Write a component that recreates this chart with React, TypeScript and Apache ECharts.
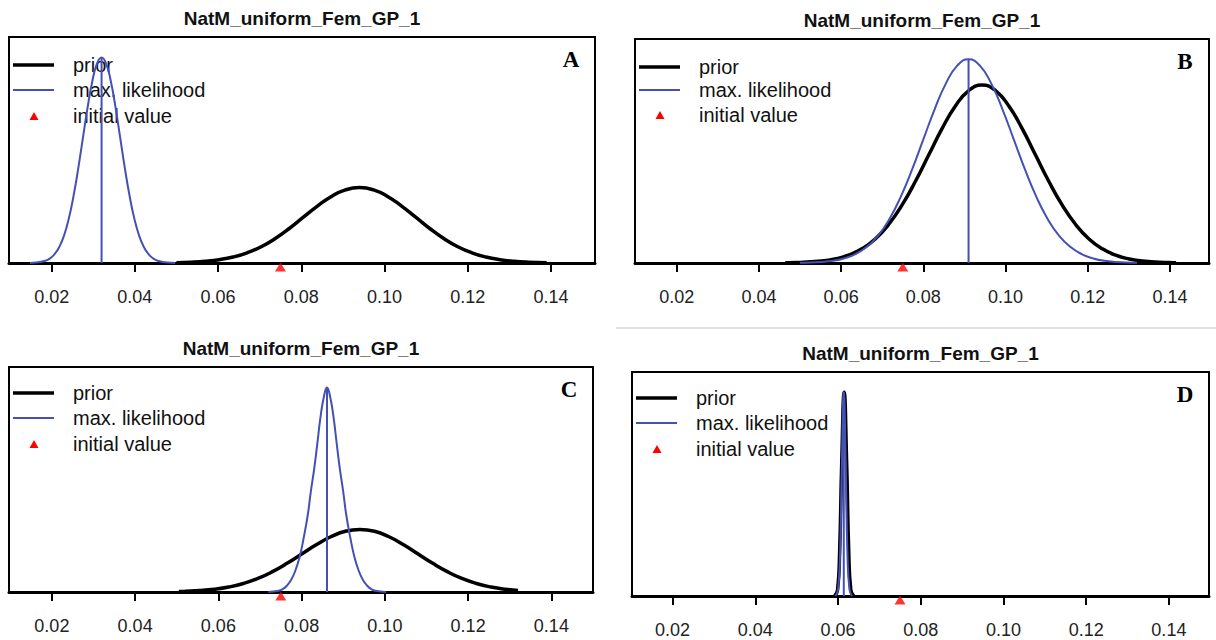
import React, { useEffect, useRef } from 'react';
import * as echarts from 'echarts';

// ---------- data ----------
const TITLE = 'NatM_uniform_Fem_GP_1';
const PANEL_LABELS = ['A', 'B', 'C', 'D'];
const LEGEND_LABELS = ['prior', 'max. likelihood', 'initial value'];
const X_TICKS = [0.02, 0.04, 0.06, 0.08, 0.1, 0.12, 0.14];
const INITIAL_VALUE = 0.075;

// Panel A
const priorA: number[][] = [
  [0.05, 0.17], [0.0535, 0.41], [0.056875, 0.84], [0.06025, 1.61], [0.063625, 2.92], [0.067, 4.97],
  [0.070375, 7.94], [0.07375, 11.9], [0.077125, 16.8], [0.0805, 22.3], [0.083875, 27.7],
  [0.08725, 32.4], [0.090625, 35.6], [0.094, 36.7], [0.097375, 35.6], [0.10075, 32.4],
  [0.104125, 27.7], [0.1075, 22.3], [0.110875, 16.8], [0.11425, 11.9], [0.117625, 7.94],
  [0.121, 4.97], [0.124375, 2.92], [0.12775, 1.61], [0.131125, 0.84], [0.1345, 0.41], [0.139, 0.14],
];
const mleA: number[][] = [
  [0.0148, 0.05], [0.01625, 0.2], [0.0185, 1.11], [0.019625, 2.28], [0.02075, 4.39], [0.021875, 7.96],
  [0.023, 13.5], [0.024125, 21.6], [0.02525, 32.5], [0.026375, 45.8], [0.0275, 60.7], [0.028625, 75.5],
  [0.02975, 88.2], [0.030875, 96.9], [0.032, 100], [0.033125, 96.9], [0.03425, 88.2], [0.035375, 75.5],
  [0.0365, 60.7], [0.037625, 45.8], [0.03875, 32.5], [0.039875, 21.6], [0.041, 13.5], [0.042125, 7.96],
  [0.04325, 4.39], [0.044375, 2.28], [0.0455, 1.11], [0.04775, 0.2], [0.0497, 0.05],
];
const mlePointA = [0.032, 100];

// Panel B
const priorB: number[][] = [
  [0.0464, 0.1], [0.0488, 0.19], [0.0553, 0.97], [0.05855, 1.99], [0.0618, 3.84], [0.06505, 6.96],
  [0.0683, 11.8], [0.07155, 18.9], [0.0748, 28.4], [0.07805, 40.0], [0.0813, 53.0], [0.08455, 66.0],
  [0.0878, 77.1], [0.09105, 84.7], [0.0943, 87.4], [0.09755, 84.7], [0.1008, 77.1], [0.10405, 66.0],
  [0.1073, 53.0], [0.11055, 40.0], [0.1138, 28.4], [0.11705, 18.9], [0.1203, 11.8], [0.12355, 6.96],
  [0.1268, 3.84], [0.13005, 1.99], [0.1333, 0.97], [0.1398, 0.19], [0.1415, 0.1],
];
const mleB: number[][] = [
  [0.05, 0.1], [0.0525, 0.2], [0.058, 1.11], [0.06075, 2.28], [0.0635, 4.39], [0.06625, 7.96],
  [0.069, 13.5], [0.07175, 21.6], [0.0745, 32.5], [0.07725, 45.8], [0.08, 60.7], [0.08275, 75.5],
  [0.0855, 88.2], [0.08825, 96.9], [0.091, 100], [0.09375, 96.9], [0.0965, 88.2], [0.09925, 75.5],
  [0.102, 60.7], [0.10475, 45.8], [0.1075, 32.5], [0.11025, 21.6], [0.113, 13.5], [0.11575, 7.96],
  [0.1185, 4.39], [0.12125, 2.28], [0.124, 1.11], [0.1295, 0.2], [0.132, 0.1],
];
const mlePointB = [0.091, 100];

// Panel C
const priorC: number[][] = [
  [0.0505, 0.2], [0.052, 0.34], [0.0555, 0.7], [0.059, 1.34], [0.0625, 2.44], [0.066, 4.14],
  [0.0695, 6.62], [0.073, 9.94], [0.0765, 14.0], [0.08, 18.56], [0.0835, 23.1], [0.087, 27.0],
  [0.0905, 29.7], [0.094, 30.6], [0.0975, 29.7], [0.101, 27.0], [0.1045, 23.1], [0.108, 18.56],
  [0.1115, 14.0], [0.115, 9.94], [0.1185, 6.62], [0.122, 4.14], [0.1255, 2.44], [0.129, 1.34],
  [0.132, 0.78],
];
const mleC: number[][] = [
  [0.072, 0], [0.0745, 0.6], [0.0755, 1.5], [0.0765, 3.2], [0.0775, 6], [0.0785, 10.5], [0.0795, 17],
  [0.0805, 26.5], [0.0815, 38], [0.0822, 49], [0.083, 60], [0.0838, 73], [0.0845, 85], [0.0853, 95],
  [0.0861, 100], [0.0869, 95], [0.0877, 85], [0.0884, 73], [0.0892, 60], [0.09, 49], [0.0907, 38],
  [0.0917, 26.5], [0.0927, 17], [0.0937, 10.5], [0.0947, 6], [0.0957, 3.2], [0.0967, 1.5],
  [0.0977, 0.6], [0.1003, 0],
];
const mlePointC = [0.0861, 100];

// Panel D
const priorD: number[][] = [
  [0.0592, 0], [0.0599, 3], [0.0604, 22], [0.0609, 65], [0.0615, 100], [0.0621, 65],
  [0.0626, 22], [0.0631, 3], [0.0638, 0],
];
const mleD: number[][] = [
  [0.0594, 0], [0.06, 3], [0.0605, 20], [0.0609, 60], [0.0614, 100], [0.0619, 60],
  [0.0623, 20], [0.0628, 3], [0.0634, 0],
];
const mlePointD = [0.0614, 100];

// ---------- layout ----------
const BLUE = '#4451b3';
const FONT = '"Liberation Sans", Arial, sans-serif';

const PANELS = [
  { prior: priorA, mle: mleA, mlePoint: mlePointA, left: 9, top: 37, width: 586, height: 226, xMin: 0.00975, xMax: 0.1506, legendY: [28, 53, 79] },
  { prior: priorB, mle: mleB, mlePoint: mlePointB, left: 635, top: 39, width: 574, height: 224, xMin: 0.00985, xMax: 0.1495, legendY: [28, 51, 76] },
  { prior: priorC, mle: mleC, mlePoint: mlePointC, left: 9, top: 367, width: 584, height: 225, xMin: 0.0097, xMax: 0.15, legendY: [26, 51, 77] },
  { prior: priorD, mle: mleD, mlePoint: mlePointD, left: 632, top: 372, width: 577, height: 224, xMin: 0.0102, xMax: 0.1497, legendY: [26, 51, 77] },
];

function buildOption() {
  const grid = PANELS.map((p) => ({
    left: p.left, top: p.top, width: p.width, height: p.height,
    show: true, borderColor: '#000', borderWidth: 2, backgroundColor: 'transparent',
  }));
  const xAxis = PANELS.map((p, i) => ({
    type: 'value', gridIndex: i, min: p.xMin, max: p.xMax, position: 'bottom',
    axisLine: { show: true, onZero: false, lineStyle: { color: '#000', width: 3 } },
    axisTick: { show: true, length: 9, customValues: X_TICKS, lineStyle: { color: '#000', width: 2 } },
    axisLabel: {
      show: true, customValues: X_TICKS, margin: 25, fontSize: 18, fontFamily: FONT, color: '#222',
      formatter: (v: number) => v.toFixed(2),
    },
    splitLine: { show: false },
  }));
  const yAxis = PANELS.map((p, i) => ({ type: 'value', gridIndex: i, min: 0, max: 110, show: false }));

  const series: any[] = [];
  PANELS.forEach((p, i) => {
    series.push({
      type: 'line', xAxisIndex: i, yAxisIndex: i, data: p.prior, smooth: 0.5,
      showSymbol: false, clip: false, silent: true, z: 2,
      lineStyle: { color: '#000', width: 3.5 },
    });
    series.push({
      type: 'line', xAxisIndex: i, yAxisIndex: i, data: p.mle, smooth: 0.5,
      showSymbol: false, clip: false, silent: true, z: 3,
      lineStyle: { color: BLUE, width: 2 },
    });
    series.push({
      type: 'line', xAxisIndex: i, yAxisIndex: i,
      data: [[p.mlePoint[0], 0], [p.mlePoint[0], p.mlePoint[1]]],
      showSymbol: false, clip: false, silent: true, z: 3,
      lineStyle: { color: BLUE, width: 2 },
    });
    series.push({
      type: 'scatter', xAxisIndex: i, yAxisIndex: i, data: [[INITIAL_VALUE, 0]],
      symbol: 'triangle', symbolSize: [11, 9], symbolOffset: [0, 4], clip: false, silent: true, z: 5,
      itemStyle: { color: '#ff0000' },
    });
  });

  const graphic: any[] = [];
  PANELS.forEach((p, i) => {
    const ly = p.legendY;
    graphic.push({
      type: 'group', x: p.left, y: p.top, silent: true,
      children: [
        { type: 'text', x: p.width / 2, y: -19, style: { text: TITLE, fontSize: 19, fontWeight: 'bold', fontFamily: FONT, fill: '#111', textAlign: 'center', verticalAlign: 'middle' } },
        { type: 'line', shape: { x1: 4, y1: ly[0], x2: 45, y2: ly[0] }, style: { stroke: '#000', lineWidth: 3.5 } },
        { type: 'line', shape: { x1: 4, y1: ly[1], x2: 45, y2: ly[1] }, style: { stroke: BLUE, lineWidth: 2 } },
        { type: 'polygon', shape: { points: [[25, ly[2] - 4], [29.5, ly[2] + 4], [20.5, ly[2] + 4]] }, style: { fill: '#ff0000' } },
        { type: 'text', x: 64, y: ly[0], style: { text: LEGEND_LABELS[0], fontSize: 20, fontFamily: FONT, fill: '#111', textAlign: 'left', verticalAlign: 'middle' } },
        { type: 'text', x: 64, y: ly[1], style: { text: LEGEND_LABELS[1], fontSize: 20, fontFamily: FONT, fill: '#111', textAlign: 'left', verticalAlign: 'middle' } },
        { type: 'text', x: 64, y: ly[2], style: { text: LEGEND_LABELS[2], fontSize: 20, fontFamily: FONT, fill: '#111', textAlign: 'left', verticalAlign: 'middle' } },
        { type: 'text', x: p.width - 24, y: 22, style: { text: PANEL_LABELS[i], fontSize: 23, fontWeight: 'bold', fontFamily: '"Liberation Serif", "Times New Roman", serif', fill: '#000', textAlign: 'center', verticalAlign: 'middle' } },
      ],
    });
  });
  graphic.push({ type: 'line', shape: { x1: 616, y1: 328, x2: 1216, y2: 328 }, style: { stroke: '#d8d8d8', lineWidth: 1.5 }, silent: true });

  return {
    animation: false,
    backgroundColor: '#ffffff',
    grid, xAxis, yAxis, series, graphic,
  };
}

export default function App() {
  const ref = useRef<HTMLDivElement>(null);
  useEffect(() => {
    if (!ref.current) return;
    const chart = echarts.init(ref.current, null, { renderer: 'svg' });
    chart.setOption(buildOption() as any);
    return () => chart.dispose();
  }, []);
  return (
    <div
      ref={ref}
      style={{ position: 'fixed', left: 0, top: 0, width: 1216, height: 640, background: '#fff' }}
    />
  );
}
